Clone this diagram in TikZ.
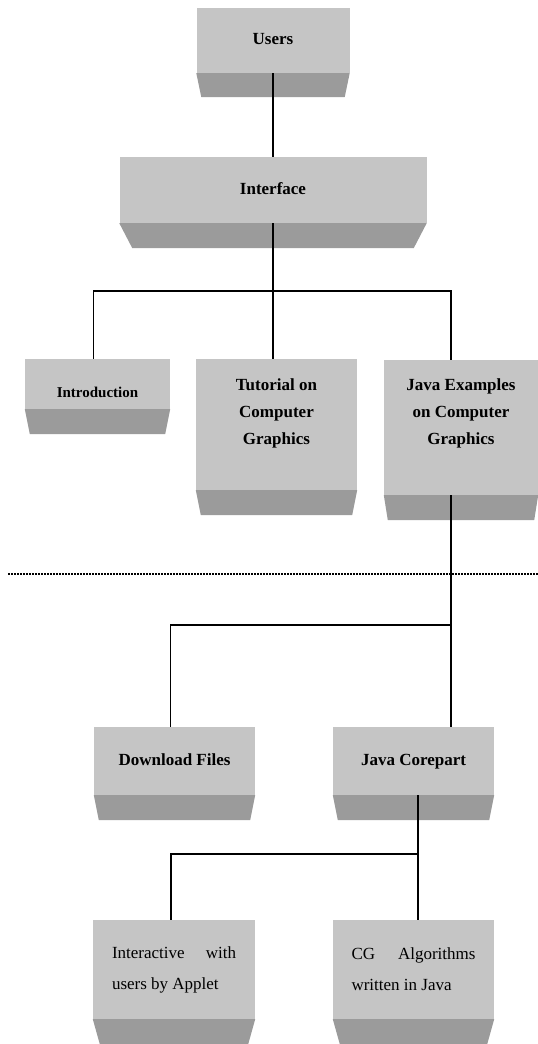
\documentclass[tikz,border=0pt]{standalone}
\usepackage{fontspec}
\setmainfont{Liberation Serif}
\usepackage{xcolor}
\usepackage{tikz}
\usetikzlibrary{positioning, calc}

\definecolor{facegray}{RGB}{197,197,197}
\definecolor{bandgray}{RGB}{155,155,155}

% darker slanted strip under a box
\newcommand{\boxband}[3]{%
  \fill[bandgray] (#1.south west) -- (#1.south east)
    -- ($(#1.south east)+(-#3,#2)$) -- ($(#1.south west)+(#3,#2)$) -- cycle;}

\begin{document}
\begin{tikzpicture}[
  x=1pt, y=-1pt,
  face/.style={
    rectangle, fill=facegray, inner sep=0pt,
    align=center, font=\fontsize{17}{27}\selectfont\bfseries
  },
  single/.style={face, text height=12pt, text depth=4pt},
  plain/.style={
    face, align=justify, text width=124pt,
    font=\fontsize{17}{31}\selectfont
  },
  link/.style={draw=black, line width=1.2pt},
  sep/.style={line width=1.8pt, dash pattern=on 1.5pt off 1.5pt}
]
\useasboundingbox (0,0) rectangle (538,1044);

% ---- Top ----
\node[single, minimum width=153pt, minimum height=65pt] (users) at (273,40.5) {Users};
\node[single, minimum width=307pt, minimum height=66pt] (iface) at (273,190) {Interface};

% ---- Middle row ----
\node[face, minimum width=145pt, minimum height=50pt, text height=28pt,
      font=\fontsize{15}{27}\selectfont\bfseries]
             (intro)  at (97.5,384)  {Introduction};
\node[face, minimum width=161pt, minimum height=131pt, text depth=26pt]
             (tutor)  at (276.5,424.5) {Tutorial on\\Computer\\Graphics};
\node[face, minimum width=154pt, minimum height=135pt, text depth=31pt]
             (javaex) at (461,427.5) {Java Examples\\on Computer\\Graphics};

% ---- Java part ----
\node[single, minimum width=161pt, minimum height=68pt] (download) at (174.5,761) {Download Files};
\node[single, minimum width=161pt, minimum height=68pt] (core)     at (413.5,761) {Java Corepart};

% ---- Bottom row ----
\node[plain, minimum width=162pt, minimum height=99pt] (applet) at (174,969.5)
  {Interactive with users by Applet};
\node[plain, minimum width=161pt, minimum height=99pt] (algo)   at (413.5,969.5)
  {CG Algorithms written in Java};

% ---- Bands ----
\boxband{users}{24}{5}
\boxband{iface}{25}{13}
\boxband{intro}{25}{5}
\boxband{tutor}{25}{5}
\boxband{javaex}{25}{4}
\boxband{download}{25}{5}
\boxband{core}{25}{5}
\boxband{applet}{25}{7}
\boxband{algo}{25}{7}

% ---- Separator ----
\draw[sep] (8,574) -- (538,574);

% ---- Lines ----
\coordinate (bus1) at (273,291);
\coordinate (bus2) at (451,625);
\coordinate (bus3) at (418,854);

\draw[link] (users.south) -- (iface.north);
\draw[link] (iface.south) -- (iface.south |- tutor.north);
\draw[link] ([xshift=-4pt]intro.north) |- (bus1) -| ([xshift=-10pt]javaex.north);

\draw[link] ([xshift=-10pt]javaex.south) -- ([xshift=-10pt]javaex.south |- core.north);
\draw[link] (bus2) -| ([xshift=-4pt]download.north);

\draw[link] ([xshift=4.5pt]core.south) -- ([xshift=4.5pt]core.south |- algo.north);
\draw[link] (bus3) -| ([xshift=-3pt]applet.north);

\end{tikzpicture}
\end{document}
